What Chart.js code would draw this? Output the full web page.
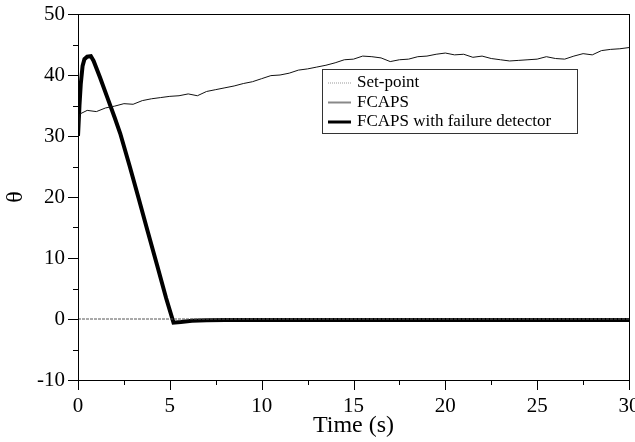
<!DOCTYPE html>
<html>
<head>
<meta charset="utf-8">
<script src="https://cdn.jsdelivr.net/npm/chart.js@4.4.1/dist/chart.umd.min.js"></script>
<style>
  body { margin: 0; background: #fff; }
  #wrap { width: 635px; height: 442px; position: relative; }
</style>
</head>
<body>
<div id="wrap"><canvas id="thetaChart"></canvas></div>
<script>
// ================= DATA =================

const seriesNames = ["Set-point", "FCAPS", "FCAPS with failure detector"];

const setTime  = [0, 30];
const setTheta = [0, 0];

const fcapsTime = [0, 0.1, 0.5, 1, 1.5, 2, 2.5, 3, 3.5, 4, 4.5, 5, 5.5, 6, 6.5, 7, 7.5, 8, 8.5, 9, 9.5,
  10, 10.5, 11, 11.5, 12, 12.5, 13, 13.5, 14, 14.5, 15, 15.5, 16, 16.5, 17, 17.5, 18, 18.5, 19, 19.5,
  20, 20.5, 21, 21.5, 22, 22.5, 23, 23.5, 24, 24.5, 25, 25.5, 26, 26.5, 27, 27.5, 28, 28.5, 29, 29.5, 30];
const fcapsTheta = [30, 33.6, 34.2, 34.0, 34.6, 34.9, 35.3, 35.2, 35.8, 36.1, 36.3, 36.5, 36.6, 36.9, 36.6, 37.3, 37.6, 37.9, 38.2, 38.6, 38.9,
  39.4, 39.9, 40.0, 40.3, 40.8, 41.0, 41.3, 41.6, 42.0, 42.5, 42.6, 43.1, 43.0, 42.8, 42.2, 42.5, 42.6, 43.0, 43.1, 43.4,
  43.6, 43.3, 43.4, 42.9, 43.1, 42.7, 42.5, 42.3, 42.4, 42.5, 42.6, 43.0, 42.7, 42.6, 43.1, 43.5, 43.3, 44.0, 44.2, 44.3, 44.5];

const detTime  = [0, 0.08, 0.15, 0.25, 0.35, 0.5, 0.7, 0.85, 1.2, 1.6, 2.0, 2.3, 2.8, 3.3, 3.8, 4.3, 4.8, 5.2, 5.6, 6.2, 7, 8, 30];
const detTheta = [30, 35, 38.5, 41.5, 42.6, 43, 43.1, 42.3, 39.6, 36.3, 33, 30.4, 25.2, 19.8, 14.3, 8.9, 3.4, -0.6, -0.5, -0.3, -0.2, -0.15, -0.15];

const xTicks = { min: 0, max: 30, step: 2.5, major: 5 };
const yTicks = { min: -10, max: 50, step: 5, major: 10 };

function zip(xs, ys) {
  return xs.map((x, i) => ({ x: x, y: ys[i] }));
}

const serif = "'Liberation Serif', 'DejaVu Serif', serif";

// ================= PLUGINS =================

// frame + minor & major ticks
const framePlugin = {
  id: "frame",
  afterDraw(chart) {
    const ctx = chart.ctx;
    const a = chart.chartArea;
    const xs = chart.scales.x;
    const ys = chart.scales.y;
    ctx.save();
    ctx.strokeStyle = "#000";
    ctx.lineWidth = 1;
    ctx.strokeRect(a.left + 0.5, a.top + 0.5, a.right - a.left, a.bottom - a.top);
    ctx.beginPath();
    for (let v = yTicks.min; v <= yTicks.max; v += yTicks.step) {
      const p = Math.round(ys.getPixelForValue(v)) + 0.5;
      const len = v % yTicks.major === 0 ? 10 : 5;
      ctx.moveTo(a.left - len, p);
      ctx.lineTo(a.left, p);
    }
    for (let v = xTicks.min; v <= xTicks.max; v += xTicks.step) {
      const p = Math.round(xs.getPixelForValue(v)) + 0.5;
      const len = v % xTicks.major === 0 ? 10 : 5;
      ctx.moveTo(p, a.bottom);
      ctx.lineTo(p, a.bottom + len);
    }
    ctx.stroke();
    ctx.restore();
  }
};

// boxed legend inside the plot
const boxLegend = {
  id: "boxLegend",
  afterDraw(chart) {
    const ctx = chart.ctx;
    const box = { x: 322, y: 69, w: 255, h: 64 };
    ctx.save();
    ctx.fillStyle = "#fff";
    ctx.fillRect(box.x, box.y, box.w, box.h);
    ctx.strokeStyle = "#333";
    ctx.lineWidth = 1;
    ctx.strokeRect(box.x + 0.5, box.y + 0.5, box.w, box.h);
    ctx.font = "17px " + serif;
    ctx.textBaseline = "middle";
    chart.data.datasets.forEach((ds, i) => {
      const y = box.y + 14 + i * 19.5;
      ctx.beginPath();
      ctx.strokeStyle = ds.legendColor || ds.borderColor;
      ctx.lineWidth = ds.legendWidth || ds.borderWidth;
      ctx.setLineDash(ds.legendDash || []);
      ctx.moveTo(box.x + 6, y);
      ctx.lineTo(box.x + 29, y);
      ctx.stroke();
      ctx.setLineDash([]);
      ctx.fillStyle = "#000";
      ctx.fillText(ds.label, box.x + 35, y);
    });
    ctx.restore();
  }
};

// ================= CHART =================

new Chart(document.getElementById("thetaChart"), {
  type: "line",
  data: {
    datasets: [
      {
        label: seriesNames[0],
        data: zip(setTime, setTheta),
        borderColor: "#555",
        legendColor: "#999",
        legendDash: [1, 1],
        borderWidth: 1,
        borderDash: [3, 1],
        pointRadius: 0
      },
      {
        label: seriesNames[1],
        data: zip(fcapsTime, fcapsTheta),
        borderColor: "#111",
        legendColor: "#888",
        legendWidth: 2,
        borderWidth: 1,
        pointRadius: 0
      },
      {
        label: seriesNames[2],
        data: zip(detTime, detTheta),
        borderColor: "#000",
        borderWidth: 4,
        legendWidth: 3,
        pointRadius: 0
      }
    ]
  },
  options: {
    responsive: true,
    maintainAspectRatio: false,
    animation: false,
    layout: { padding: { top: 14, right: 6, left: 0, bottom: 0 } },
    plugins: {
      legend: { display: false },
      tooltip: { enabled: false }
    },
    scales: {
      x: {
        type: "linear",
        min: xTicks.min,
        max: xTicks.max,
        afterFit: (s) => { s.height = 62; s.paddingLeft = 0; s.paddingRight = 0; },
        grid: { display: false, drawTicks: false },
        border: { display: false },
        ticks: {
          stepSize: xTicks.step,
          padding: 14,
          color: "#000",
          font: { family: serif, size: 21 },
          maxRotation: 0,
          autoSkip: false,
          callback: (v) => (v % xTicks.major === 0 ? v : "")
        },
        title: {
          display: true,
          text: "Time (s)",
          color: "#000",
          font: { family: serif, size: 24 },
          padding: { top: 0, bottom: 2 }
        }
      },
      y: {
        min: yTicks.min,
        max: yTicks.max,
        afterFit: (s) => { s.width = 78; s.paddingTop = 0; s.paddingBottom = 0; },
        grid: { display: false, drawTicks: false },
        border: { display: false },
        ticks: {
          stepSize: yTicks.step,
          padding: 13,
          color: "#000",
          font: { family: serif, size: 21 },
          autoSkip: false,
          callback: (v) => (v % yTicks.major === 0 ? v : "")
        },
        title: {
          display: true,
          text: "θ",
          color: "#000",
          font: { family: serif, size: 24 },
          padding: { top: 1, bottom: 0 }
        }
      }
    }
  },
  plugins: [framePlugin, boxLegend]
});
</script>
</body>
</html>
